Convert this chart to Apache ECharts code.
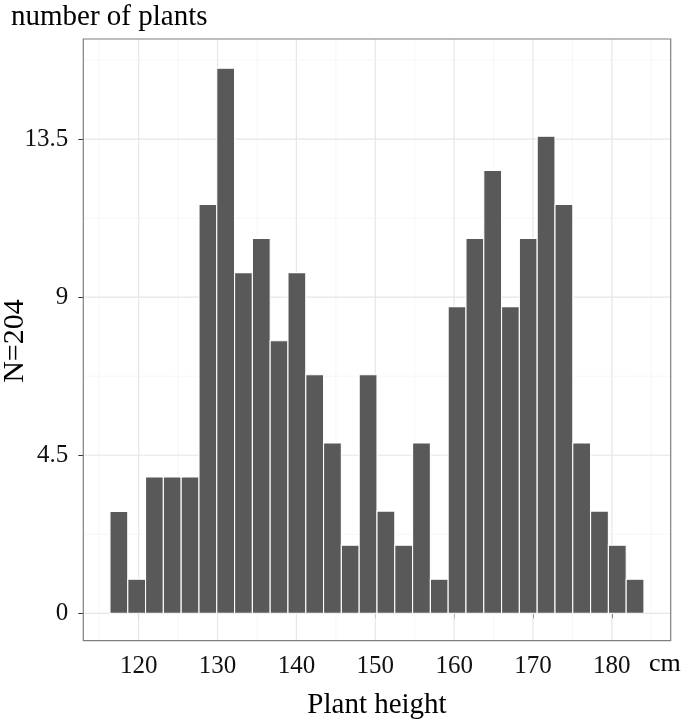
<!DOCTYPE html>
<html>
<head>
<meta charset="utf-8">
<script src="https://cdn.jsdelivr.net/npm/echarts@6/dist/echarts.min.js"></script>
<style>
html,body{margin:0;padding:0;background:#fff;}
#chart{width:685px;height:721px;}
</style>
</head>
<body>
<div id="chart"></div>
<script>
// Histogram bins (bin centres, cm) and bar heights as read against the y axis
var binCenters = [117.49,119.75,122.00,124.26,126.52,128.78,131.03,133.29,135.55,137.80,
                  140.06,142.32,144.57,146.83,149.09,151.35,153.60,155.86,158.12,160.37,
                  162.63,164.89,167.14,169.40,171.66,173.92,176.17,178.43,180.69,182.94];
var binWidth = 2.257;
var barHeights = [2.9,0.97,3.88,3.88,3.88,11.64,15.52,9.7,10.67,7.76,
                  9.7,6.79,4.85,1.94,6.79,2.91,1.94,4.85,0.97,8.73,
                  10.67,12.61,8.73,10.67,13.58,11.64,4.85,2.91,1.94,0.97];
var xTickLabels = [120,130,140,150,160,170,180];
var xMinorGrid = [115,125,135,145,155,165,175,185];
var yTickLabels = [0,4.5,9,13.5];
var yMinorGrid = [2.25,6.75,11.25,15.75];

var xRange = [112.98, 187.46];
var yRange = [-0.78, 16.35];
var serif = "'Liberation Serif','DejaVu Serif',serif";

var barData = binCenters.map(function(c,i){ return [c, barHeights[i]]; });
var gridData = [];
xTickLabels.forEach(function(v){ gridData.push([0, v, 1]); });
xMinorGrid.forEach(function(v){ gridData.push([0, v, 0]); });
yTickLabels.forEach(function(v){ gridData.push([1, v, 1]); });
yMinorGrid.forEach(function(v){ gridData.push([1, v, 0]); });

var chart = echarts.init(document.getElementById('chart'), null, {renderer:'canvas'});
chart.setOption({
  animation:false,
  backgroundColor:'#ffffff',
  grid:{left:83.3, right:14.3, top:39, bottom:80.3, containLabel:false, outerBoundsMode:'none',
        show:true, borderColor:'#7f7f7f', borderWidth:1.2, backgroundColor:'transparent', z:5},
  xAxis:{
    type:'value', min:xRange[0], max:xRange[1],
    axisLine:{show:false},
    splitLine:{show:false},
    axisTick:{show:true, customValues:xTickLabels, length:5, lineStyle:{color:'#333', width:1}},
    axisLabel:{show:true, customValues:xTickLabels, fontFamily:serif, fontSize:25, color:'#111', margin:13},
    name:'Plant height', nameLocation:'middle', nameGap:50,
    nameTextStyle:{fontFamily:serif, fontSize:29, color:'#000'}
  },
  yAxis:{
    type:'value', min:yRange[0], max:yRange[1],
    axisLine:{show:false},
    splitLine:{show:false},
    axisTick:{show:true, customValues:yTickLabels, length:5, lineStyle:{color:'#333', width:1}},
    axisLabel:{show:true, customValues:yTickLabels, fontFamily:serif, fontSize:25, color:'#111', margin:15}
  },
  graphic:[
    {type:'text', left:11, top:3, style:{text:'number of plants', font:"29px 'Liberation Serif', serif", fill:'#000'}},
    {type:'text', left:649, top:651, style:{text:'cm', font:"26px 'Liberation Serif', serif", fill:'#000'}},
    {type:'text', x:15, y:341, rotation:Math.PI/2,
     style:{text:'N=204', font:"30px 'Liberation Serif', serif", fill:'#000', align:'center', verticalAlign:'middle'}}
  ],
  series:[
    {
      type:'custom', z:1, silent:true, clip:true,
      data:gridData,
      renderItem:function(params, api){
        var cs = params.coordSys;
        var orient = api.value(0), v = api.value(1), major = api.value(2);
        var color = major ? '#e6e6e6' : '#f4f4f4';
        var w = major ? 1.2 : 0.8;
        var s;
        if (orient === 0) {
          var p = api.coord([v, 0]);
          s = {x1:p[0], y1:cs.y, x2:p[0], y2:cs.y+cs.height};
        } else {
          var q = api.coord([xRange[0], v]);
          s = {x1:cs.x, y1:q[1], x2:cs.x+cs.width, y2:q[1]};
        }
        return {type:'line', shape:s, style:{stroke:color, lineWidth:w}};
      }
    },
    {
      type:'custom', z:2, clip:true,
      data:barData,
      renderItem:function(params, api){
        var c = api.value(0), h = api.value(1);
        var p0 = api.coord([c - binWidth/2, 0]);
        var p1 = api.coord([c + binWidth/2, h]);
        return {type:'rect',
          shape:{x:p0[0], y:p1[1], width:p1[0]-p0[0], height:p0[1]-p1[1]},
          style:{fill:'#595959', stroke:'#ffffff', lineWidth:1.1}};
      }
    }
  ]
});
</script>
</body>
</html>
